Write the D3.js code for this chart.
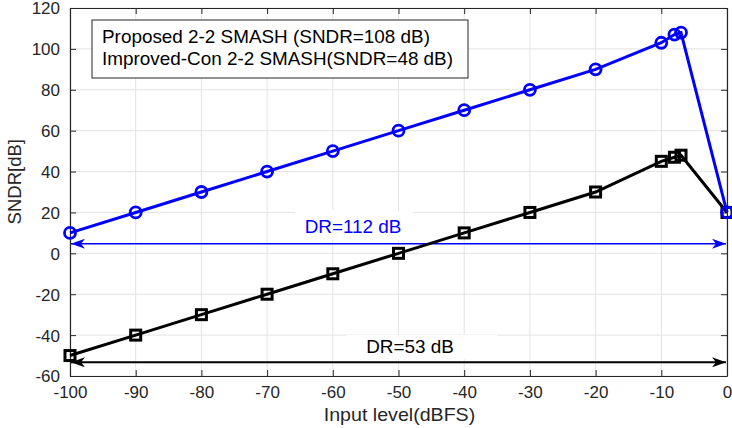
<!DOCTYPE html>
<html>
<head>
<meta charset="utf-8">
<script src="https://cdn.jsdelivr.net/npm/d3@7"></script>
<style>
  body { margin: 0; background: #fff; }
  svg text { font-family: "Liberation Sans", Arial, sans-serif; }
</style>
</head>
<body>
<div id="chart"></div>
<script>

var inputLevel = [-100, -90, -80, -70, -60, -50, -40, -30, -20, -10, -8, -7, 0];
var proposedSndr = [10, 20, 30, 40, 50, 60, 70, 80, 90, 103, 107, 108, 20];
var improvedSndr = [-50, -40, -30, -20, -10, 0, 10, 20, 30, 45, 47, 48, 20];
var xTicks = [-100, -90, -80, -70, -60, -50, -40, -30, -20, -10, 0];
var yTicks = [-60, -40, -20, 0, 20, 40, 60, 80, 100, 120];
var legendLabels = ["Proposed 2-2 SMASH (SNDR=108 dB)", "Improved-Con 2-2 SMASH(SNDR=48 dB)"];
var drLevels = [4.7, -53.3];
var drLabels = ["DR=112 dB", "DR=53 dB"];

var width = 732, height = 428;
var margin = {top: 8, right: 5, bottom: 52, left: 70};

var svg = d3.select("#chart").append("svg")
    .attr("width", width)
    .attr("height", height);

var x = d3.scaleLinear().domain([-100, 0]).range([margin.left, width - margin.right]);
var y = d3.scaleLinear().domain([-60, 120]).range([height - margin.bottom, margin.top]);

// text slightly stretched sideways like the original figure
function wideText(px, py, sx, anchor, size, color, str){
    svg.append("g")
        .attr("transform", "translate(" + px + "," + py + ") scale(" + sx + ",1)")
        .append("text")
        .attr("text-anchor", anchor)
        .style("font-size", size).style("fill", color)
        .text(str);
}

// grid
svg.append("g").selectAll("line").data(xTicks).enter().append("line")
    .attr("x1", function(d){ return x(d); }).attr("x2", function(d){ return x(d); })
    .attr("y1", y(-60)).attr("y2", y(120))
    .style("stroke", "#e3e3e3").style("stroke-width", 1);
svg.append("g").selectAll("line").data(yTicks).enter().append("line")
    .attr("y1", function(d){ return y(d); }).attr("y2", function(d){ return y(d); })
    .attr("x1", x(-100)).attr("x2", x(0))
    .style("stroke", "#e3e3e3").style("stroke-width", 1);

// axes (ticks inward, matlab style)
var fmt = function(d){ return d; };
var gx = svg.append("g").attr("transform", "translate(0," + y(-60) + ")")
    .call(d3.axisBottom(x).tickValues(xTicks).tickFormat(fmt).tickSizeInner(-6).tickSizeOuter(0).tickPadding(10));
var gx2 = svg.append("g").attr("transform", "translate(0," + y(120) + ")")
    .call(d3.axisTop(x).tickValues(xTicks).tickFormat("").tickSizeInner(-6).tickSizeOuter(0));
var gy = svg.append("g").attr("transform", "translate(" + x(-100) + ",0)")
    .call(d3.axisLeft(y).tickValues(yTicks).tickFormat(fmt).tickSizeInner(-6).tickSizeOuter(0).tickPadding(10));
var gy2 = svg.append("g").attr("transform", "translate(" + x(0) + ",0)")
    .call(d3.axisRight(y).tickValues(yTicks).tickFormat("").tickSizeInner(-6).tickSizeOuter(0));

[gx, gx2, gy, gy2].forEach(function(g){
    g.selectAll("path").style("stroke", "#262626").style("stroke-width", 1.2);
    g.selectAll("line").style("stroke", "#262626");
    g.selectAll("text").style("font-size", "17px").style("fill", "#262626")
        .style("font-family", "Liberation Sans, Arial, sans-serif");
});
gy.selectAll("text").attr("dy", "0.35em");

wideText((x(-100) + x(0)) / 2 + 1, 421, 1.09, "middle", "18px", "#262626", "Input level(dBFS)");

svg.append("text")
    .attr("transform", "translate(21," + y(35) + ") rotate(-90)")
    .attr("text-anchor", "middle")
    .style("font-size", "18.5px").style("fill", "#262626")
    .text("SNDR[dB]");

// arrow markers
var defs = svg.append("defs");
[["arrBlue", "#0000ff"], ["arrBlack", "#000"]].forEach(function(a){
    defs.append("marker")
        .attr("id", a[0])
        .attr("viewBox", "0 0 14 10")
        .attr("refX", 14).attr("refY", 5)
        .attr("markerWidth", 14).attr("markerHeight", 10)
        .attr("markerUnits", "userSpaceOnUse")
        .attr("orient", "auto-start-reverse")
        .append("path")
        .attr("d", "M0,0 L14,5 L0,10 L4,5 Z")
        .style("fill", a[1]);
});

// DR labels with white box
var drColors = ["#0000ff", "#000"];
var drBoxes = [[295, 210, 118, 30], [347, 335, 150, 24]];
var drTextPos = [[353, 233], [410, 353]];
drLabels.forEach(function(t, i){
    svg.append("rect")
        .attr("x", drBoxes[i][0]).attr("y", drBoxes[i][1])
        .attr("width", drBoxes[i][2]).attr("height", drBoxes[i][3])
        .style("fill", "#fff");
    wideText(drTextPos[i][0], drTextPos[i][1], 1.05, "middle", "18px", drColors[i], t);
});

// DR arrows
drLevels.forEach(function(v, i){
    svg.append("line")
        .attr("x1", x(-100) + 1).attr("x2", x(0) - 1)
        .attr("y1", y(v)).attr("y2", y(v))
        .style("stroke", drColors[i])
        .style("stroke-width", i == 0 ? 1.5 : 2)
        .attr("marker-start", "url(#" + (i == 0 ? "arrBlue" : "arrBlack") + ")")
        .attr("marker-end", "url(#" + (i == 0 ? "arrBlue" : "arrBlack") + ")");
});

// lines
var line = d3.line()
    .x(function(d){ return x(d[0]); })
    .y(function(d){ return y(d[1]); });

var blueData = d3.zip(inputLevel, proposedSndr);
var blackData = d3.zip(inputLevel, improvedSndr);

svg.append("path").datum(blackData).attr("d", line)
    .style("fill", "none").style("stroke", "#000").style("stroke-width", 3);
svg.append("g").selectAll("rect").data(blackData).enter().append("rect")
    .attr("x", function(d){ return x(d[0]) - 5; })
    .attr("y", function(d){ return y(d[1]) - 5; })
    .attr("width", 10).attr("height", 10)
    .style("fill", "none").style("stroke", "#000").style("stroke-width", 3);

svg.append("path").datum(blueData).attr("d", line)
    .style("fill", "none").style("stroke", "#0000ff").style("stroke-width", 3);
svg.append("g").selectAll("circle").data(blueData).enter().append("circle")
    .attr("cx", function(d){ return x(d[0]); })
    .attr("cy", function(d){ return y(d[1]); })
    .attr("r", 5.5)
    .style("fill", "none").style("stroke", "#0000ff").style("stroke-width", 2.8);

// legend (text only)
svg.append("rect")
    .attr("x", 92).attr("y", 20).attr("width", 376).attr("height", 58)
    .style("fill", "#fff").style("fill-opacity", 0.92)
    .style("stroke", "#262626").style("stroke-width", 1);
legendLabels.forEach(function(t, i){
    wideText(102, 43 + i * 22, 1.05, "start", "18px", "#000", t);
});

</script>
</body>
</html>
